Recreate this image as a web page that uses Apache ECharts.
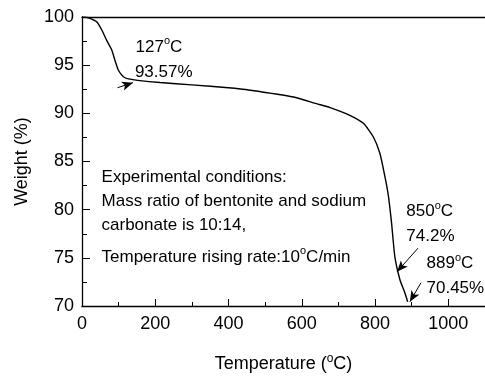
<!DOCTYPE html>
<html>
<head>
<meta charset="utf-8">
<script src="https://cdn.jsdelivr.net/npm/echarts@6/dist/echarts.min.js"></script>
<style>
  html, body { margin: 0; padding: 0; background: #fff; }
  #chart { width: 485px; height: 376px; }
</style>
</head>
<body>
<div id="chart"></div>
<script>
// TGA curve
const temps = [0, 15, 22, 40, 54, 67, 81, 90, 99, 113, 127, 158, 213, 300, 400, 459, 577, 640, 677, 731, 768, 795, 813, 827, 836, 845, 854, 868, 880, 889];
const weights = [100, 99.95, 99.85, 99.5, 98.65, 97.6, 96.6, 95.5, 94.5, 93.8, 93.57, 93.4, 93.2, 92.95, 92.65, 92.4, 91.7, 91.0, 90.6, 89.8, 88.96, 87.57, 85.85, 83.4, 81.5, 78.6, 75.1, 72.7, 71.5, 70.45];

// annotation labels: [text, T, W]
const notes = [
  ['{t|127}{s|o}{t|C}', 145, 96.9],
  ['{t|93.57%}', 143, 94.3],
  ['{t|850}{s|o}{t|C}', 884, 79.8],
  ['{t|74.2%}', 884, 77.2],
  ['{t|889}{s|o}{t|C}', 939, 74.45],
  ['{t|70.45%}', 939, 71.87],
  ['{t|Experimental conditions:}', 52, 83.4],
  ['{t|Mass ratio of bentonite and sodium}', 52, 80.83],
  ['{t|carbonate is 10:14,}', 52, 78.4],
  ['{t|Temperature rising rate:10}{s|o}{t|C/min}', 52, 75.1]
];
// arrows: [fromT, fromW, toT, toW]
const arrows = [
  [97, 92.66, 139, 93.18],
  [917, 76.0, 860, 73.56],
  [925, 72.4, 895, 70.44]
];

const font = 'Liberation Sans, Arial, sans-serif';
const rich = {
  t: { fontSize: 17, fontFamily: font, color: '#000' },
  s: { fontSize: 11, fontFamily: font, color: '#000', verticalAlign: 'bottom', padding: [0, 0, 11, 0] }
};

const chart = echarts.init(document.getElementById('chart'));

const option = {
  animation: false,
  grid: { left: 82, right: 0, top: 17, bottom: 70, containLabel: false, outerBoundsMode: 'none' },
  xAxis: [{
    type: 'value',
    min: 0, max: 1100, interval: 200,
    name: '{n|Temperature (}{s|o}{n|C)}',
    nameLocation: 'middle',
    nameGap: 47,
    nameTextStyle: {
      rich: {
        n: { fontSize: 18, fontFamily: font, color: '#000' },
        s: { fontSize: 12, fontFamily: font, color: '#000', verticalAlign: 'bottom', padding: [0, 0, 11, 0] }
      }
    },
    axisLine: { lineStyle: { color: '#000', width: 1.3 } },
    axisTick: { inside: true, length: 7, lineStyle: { color: '#000', width: 1 } },
    minorTick: { show: true, splitNumber: 2, length: 4, lineStyle: { color: '#000', width: 1 } },
    axisLabel: { fontSize: 18, fontFamily: font, color: '#000', margin: 9, showMaxLabel: false, formatter: v => String(v) },
    splitLine: { show: false }
  }, {
    type: 'value',
    position: 'top',
    min: 0, max: 1100,
    axisLine: { show: true, onZero: false, lineStyle: { color: '#000', width: 1.3 } },
    axisTick: { show: false },
    axisLabel: { show: false },
    splitLine: { show: false }
  }],
  yAxis: {
    type: 'value',
    min: 70, max: 100, interval: 5,
    name: 'Weight (%)',
    nameLocation: 'middle',
    nameGap: 51,
    nameTextStyle: { fontSize: 18, fontFamily: font, color: '#000' },
    axisLine: { show: true, lineStyle: { color: '#000', width: 1.3 } },
    axisTick: { inside: true, length: 8, lineStyle: { color: '#000', width: 1 } },
    minorTick: { show: true, splitNumber: 2, length: 5, lineStyle: { color: '#000', width: 1 } },
    axisLabel: { fontSize: 18, fontFamily: font, color: '#000', margin: 8 },
    splitLine: { show: false }
  },
  series: [{
    type: 'line',
    data: temps.map((t, i) => [t, weights[i]]),
    showSymbol: false,
    smooth: 0.2,
    lineStyle: { color: '#000', width: 1.4 },
    markPoint: {
      symbol: 'circle',
      symbolSize: 1,
      itemStyle: { color: 'rgba(0,0,0,0)' },
      silent: true,
      label: { show: true, position: 'right', distance: 0, rich: rich },
      data: notes.map(n => ({ coord: [n[1], n[2]], label: { formatter: n[0] } }))
    },
    markLine: {
      silent: true,
      symbol: ['none', 'arrow'],
      symbolSize: [7, 11],
      label: { show: false },
      lineStyle: { color: '#000', width: 1, type: 'solid' },
      data: arrows.map(a => [{ coord: [a[0], a[1]] }, { coord: [a[2], a[3]] }])
    }
  }]
};

chart.setOption(option);
</script>
</body>
</html>
